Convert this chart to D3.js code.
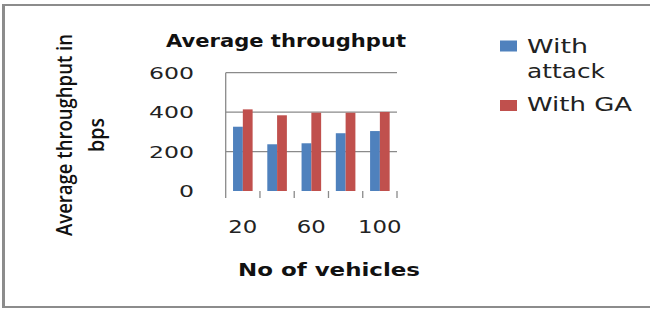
<!DOCTYPE html>
<html>
<head>
<meta charset="utf-8">
<script src="https://cdn.jsdelivr.net/npm/d3@7"></script>
<style>
  html, body { margin: 0; padding: 0; background: #fff; }
  svg { display: block; }
</style>
</head>
<body>
<svg id="chart" width="650" height="309"></svg>
<script>
// ---- data ----
const categories = ["20", "40", "60", "80", "100"];
const shownLabels = ["20", "60", "100"];
const seriesNames = ["With attack", "With GA"];
const withAttack = [326, 237, 242, 293, 304];
const withGA = [414, 384, 397, 397, 401];
const yTicks = [0, 200, 400, 600];
const chartTitle = "Average throughput";
const xTitle = "No of vehicles";
const yTitleLines = ["Average throughput in", "bps"];

const colors = ["#4F81BD", "#C0504D"];
const gridColor = "#8a8a8a";

const svg = d3.select("#chart");

// outer frame
svg.append("line").attr("x1", 2).attr("x2", 650).attr("y1", 5).attr("y2", 5)
  .attr("stroke", "#8c8c8c").attr("stroke-width", 2);
svg.append("line").attr("x1", 2).attr("x2", 650).attr("y1", 307).attr("y2", 307)
  .attr("stroke", "#8c8c8c").attr("stroke-width", 2);
svg.append("line").attr("x1", 3.5).attr("x2", 3.5).attr("y1", 4).attr("y2", 308)
  .attr("stroke", "#8c8c8c").attr("stroke-width", 3);

// scales
const plotLeft = 225.7, plotRight = 397, plotTop = 72.7, plotBottom = 191;
const y = d3.scaleLinear().domain([0, 600]).range([plotBottom, plotTop]);
const x = d3.scaleBand().domain(categories).range([plotLeft, plotRight])
  .paddingInner(1.5 / 3.5).paddingOuter(0.75 / 3.5);
const xs = d3.scaleBand().domain(seriesNames).range([0, x.bandwidth()]);
const step = x.step();

// gridlines
svg.append("g").selectAll("line").data(yTicks.filter(d => d > 0)).join("line")
  .attr("x1", plotLeft).attr("x2", plotRight)
  .attr("y1", d => y(d)).attr("y2", d => y(d))
  .attr("stroke", gridColor).attr("stroke-width", 1.3);

// y axis line
svg.append("line").attr("x1", plotLeft).attr("x2", plotLeft)
  .attr("y1", plotTop).attr("y2", plotBottom + 7)
  .attr("stroke", gridColor).attr("stroke-width", 1.3);

// x tick marks at category boundaries
const boundaries = d3.range(categories.length + 1).map(i => plotLeft + i * step);
svg.append("g").selectAll("line").data(boundaries.slice(1)).join("line")
  .attr("x1", d => d).attr("x2", d => d)
  .attr("y1", plotBottom).attr("y2", plotBottom + 7)
  .attr("stroke", gridColor).attr("stroke-width", 1.3);

// bars
const seriesData = [withAttack, withGA];
seriesData.forEach((vals, si) => {
  svg.append("g").selectAll("rect").data(vals).join("rect")
    .attr("x", (d, i) => x(categories[i]) + xs(seriesNames[si]))
    .attr("width", xs.bandwidth())
    .attr("y", d => y(d))
    .attr("height", d => y(0) - y(d))
    .attr("fill", colors[si]);
});

// y tick labels
svg.append("g").selectAll("text").data(yTicks).join("text")
  .attr("x", 194).attr("y", d => y(d) + 6)
  .attr("text-anchor", "end")
  .attr("font-family", "DejaVu Sans").attr("font-size", 16.5)
  .attr("fill", "#222")
  .attr("textLength", d => String(d).length * 15)
  .attr("lengthAdjust", "spacingAndGlyphs")
  .text(d => d);

// x tick labels
svg.append("g").selectAll("text").data(shownLabels).join("text")
  .attr("x", d => x(d) + x.bandwidth() / 2)
  .attr("y", 233)
  .attr("text-anchor", "middle")
  .attr("font-family", "DejaVu Sans").attr("font-size", 17)
  .attr("fill", "#222")
  .attr("textLength", d => d.length * 14.5)
  .attr("lengthAdjust", "spacingAndGlyphs")
  .text(d => d);

// chart title
svg.append("text").attr("x", 286).attr("y", 47)
  .attr("text-anchor", "middle")
  .attr("font-family", "DejaVu Sans").attr("font-weight", "bold").attr("font-size", 17)
  .attr("fill", "#111")
  .attr("textLength", 240).attr("lengthAdjust", "spacingAndGlyphs")
  .text(chartTitle);

// x axis title
svg.append("text").attr("x", 329).attr("y", 276)
  .attr("text-anchor", "middle")
  .attr("font-family", "DejaVu Sans").attr("font-weight", "bold").attr("font-size", 18)
  .attr("fill", "#111")
  .attr("textLength", 182).attr("lengthAdjust", "spacingAndGlyphs")
  .text(xTitle);

// y axis title (rotated)
const yt = svg.append("g").attr("transform", "translate(0,135) rotate(-90)");
yt.append("text").attr("x", 0).attr("y", 72)
  .attr("text-anchor", "middle")
  .attr("font-family", "Open Sans").attr("font-weight", 600).attr("font-size", 21)
  .attr("fill", "#111")
  .attr("textLength", 202).attr("lengthAdjust", "spacingAndGlyphs")
  .text(yTitleLines[0]);
yt.append("text").attr("x", 0).attr("y", 104)
  .attr("text-anchor", "middle")
  .attr("font-family", "Open Sans").attr("font-weight", 600).attr("font-size", 21)
  .attr("fill", "#111")
  .attr("textLength", 34).attr("lengthAdjust", "spacingAndGlyphs")
  .text(yTitleLines[1]);

// legend
const legendItems = [
  { lines: ["With", "attack"], color: colors[0], sy: 40.5, ty: [53, 78], tl: [61, 78] },
  { lines: ["With GA"], color: colors[1], sy: 100, ty: [110.7], tl: [105] }
];
const lg = svg.append("g");
legendItems.forEach(item => {
  lg.append("rect").attr("x", 500).attr("y", item.sy).attr("width", 17).attr("height", 11)
    .attr("fill", item.color);
  item.lines.forEach((ln, j) => {
    lg.append("text").attr("x", 527).attr("y", item.ty[j])
      .attr("font-family", "DejaVu Sans").attr("font-size", 20)
      .attr("fill", "#222")
      .attr("textLength", item.tl[j]).attr("lengthAdjust", "spacingAndGlyphs")
      .text(ln);
  });
});
</script>
</body>
</html>
